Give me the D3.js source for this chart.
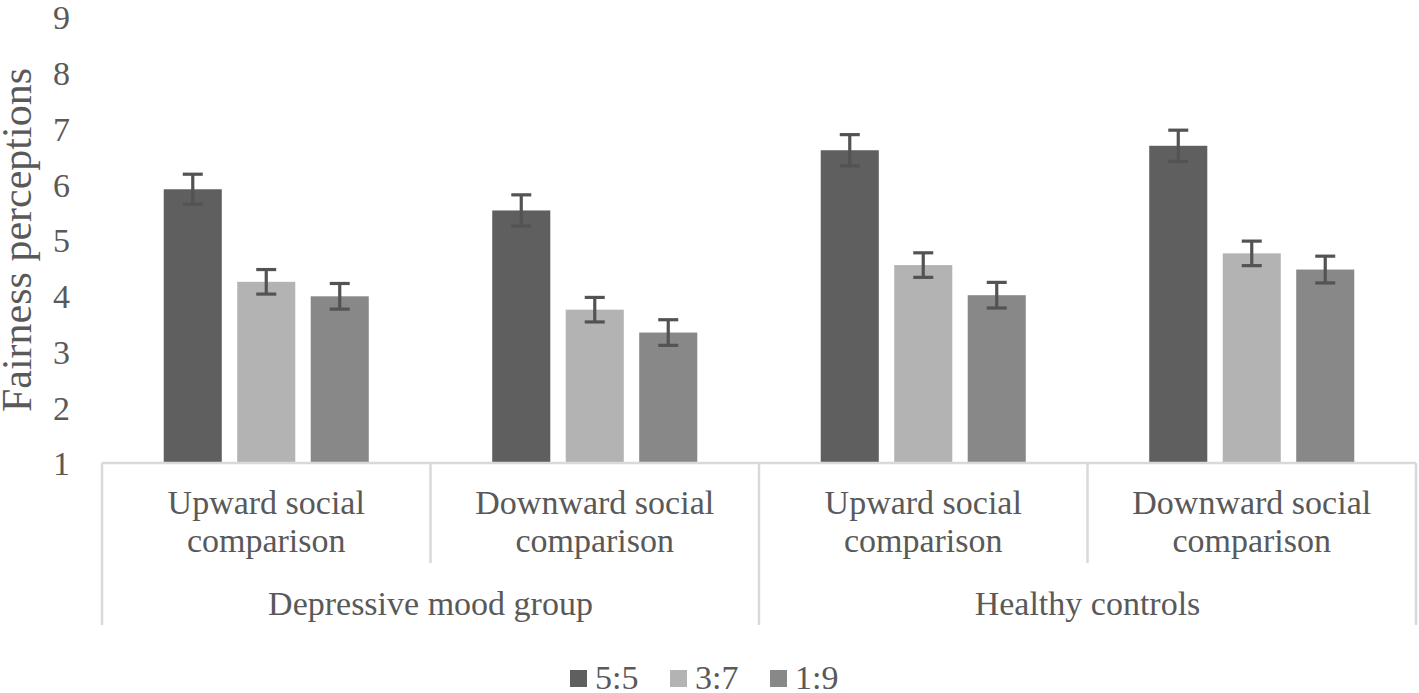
<!DOCTYPE html>
<html>
<head>
<meta charset="utf-8">
<script src="https://cdn.jsdelivr.net/npm/d3@7"></script>
<style>
  html, body { margin: 0; padding: 0; background: #fff; }
  svg { display: block; }
</style>
</head>
<body>
<svg id="chart" width="1419" height="693"></svg>
<script>
// ---- data ----
const groups = ["Depressive mood group", "Healthy controls"];
const comparisons = [["Upward social", "comparison"], ["Downward social", "comparison"]];
const series = ["5:5", "3:7", "1:9"];
const colors = ["#5f5f5f", "#b3b3b3", "#888888"];
// values per category (DMG-up, DMG-down, HC-up, HC-down)
const val55 = [5.91, 5.53, 6.61, 6.69];
const val37 = [4.25, 3.75, 4.55, 4.76];
const val19 = [3.99, 3.34, 4.01, 4.47];
const err55 = [0.27, 0.28, 0.28, 0.28];
const err37 = [0.22, 0.22, 0.22, 0.22];
const err19 = [0.23, 0.23, 0.23, 0.24];
const yTicks = [1, 2, 3, 4, 5, 6, 7, 8, 9];

const values = [val55, val37, val19];
const errors = [err55, err37, err19];

const FONT = "'Liberation Serif', 'Times New Roman', Tinos, 'DejaVu Serif', serif";
const TXT = "#595959";

// ---- layout ----
const svg = d3.select("#chart");
const mLeft = 102, mRight = 1416, mTop = 17, mBottom = 463;

const categories = [];
groups.forEach((g, gi) => comparisons.forEach((c, ci) => categories.push({ id: gi + "-" + ci, group: gi, lines: c })));

const x0 = d3.scaleBand().domain(categories.map(d => d.id)).range([mLeft, mRight]).paddingInner(0).paddingOuter(0);
const x1 = d3.scaleBand().domain(series).range([0, x0.bandwidth()]).paddingInner(0.21).paddingOuter(0.84);
const y = d3.scaleLinear().domain([1, 9]).range([mBottom, mTop]);

// y tick labels (no axis line, no gridlines)
const yAxis = d3.axisLeft(y).tickValues(yTicks).tickSize(0).tickPadding(0).tickFormat(d3.format("d"));
const yg = svg.append("g").attr("transform", `translate(70,0)`).call(yAxis)
  .attr("font-family", FONT).attr("font-size", 34);
yg.select(".domain").remove();
yg.selectAll("text").attr("fill", TXT).attr("dy", "0.35em");

// y title
svg.append("text")
  .attr("transform", `translate(31,240) rotate(-90)`)
  .attr("text-anchor", "middle")
  .attr("font-family", FONT).attr("font-size", 42).attr("fill", TXT)
  .text("Fairness perceptions");

// bars
const bars = svg.append("g");
series.forEach((s, si) => {
  bars.selectAll(null)
    .data(categories)
    .enter().append("rect")
    .attr("x", d => x0(d.id) + x1(s))
    .attr("width", x1.bandwidth())
    .attr("y", (d, i) => y(values[si][i]))
    .attr("height", (d, i) => y(1) - y(values[si][i]))
    .attr("fill", colors[si]);
});

// error bars
const eb = svg.append("g").attr("stroke", "#535353").attr("stroke-width", 3.2).attr("fill", "none");
series.forEach((s, si) => {
  categories.forEach((d, i) => {
    const cx = x0(d.id) + x1(s) + x1.bandwidth() / 2;
    const v = values[si][i], e = errors[si][i];
    eb.append("line").attr("x1", cx).attr("x2", cx).attr("y1", y(v + e)).attr("y2", y(v - e));
    eb.append("line").attr("x1", cx - 10).attr("x2", cx + 10).attr("y1", y(v + e)).attr("y2", y(v + e));
    eb.append("line").attr("x1", cx - 10).attr("x2", cx + 10).attr("y1", y(v - e)).attr("y2", y(v - e));
  });
});

// category axis structure
const axisG = svg.append("g").attr("stroke", "#d9d9d9").attr("stroke-width", 2.5);
axisG.append("line").attr("x1", mLeft).attr("x2", mRight).attr("y1", mBottom).attr("y2", mBottom);
const groupBounds = [mLeft, x0(categories[2].id), mRight];
groupBounds.forEach(xb => {
  axisG.append("line").attr("x1", xb).attr("x2", xb).attr("y1", mBottom).attr("y2", 625);
});
[x0(categories[1].id), x0(categories[3].id)].forEach(xb => {
  axisG.append("line").attr("x1", xb).attr("x2", xb).attr("y1", mBottom).attr("y2", 563);
});

// category labels
categories.forEach(d => {
  const cx = x0(d.id) + x0.bandwidth() / 2;
  const t = svg.append("text").attr("text-anchor", "middle")
    .attr("font-family", FONT).attr("font-size", 34).attr("fill", TXT);
  d.lines.forEach((ln, li) => {
    t.append("tspan").attr("x", cx).attr("y", 514 + li * 38).text(ln);
  });
});
// group labels
groups.forEach((g, gi) => {
  const cx = (groupBounds[gi] + groupBounds[gi + 1]) / 2;
  svg.append("text").attr("x", cx).attr("y", 615).attr("text-anchor", "middle")
    .attr("font-family", FONT).attr("font-size", 34).attr("fill", TXT).text(g);
});

// legend
const legend = svg.append("g");
series.forEach((s, si) => {
  const lx = 570 + si * 100;
  legend.append("rect").attr("x", lx).attr("y", 670).attr("width", 17).attr("height", 17).attr("fill", colors[si]);
  legend.append("text").attr("x", lx + 25).attr("y", 689)
    .attr("font-family", FONT).attr("font-size", 34).attr("fill", TXT).text(s);
});
</script>
</body>
</html>
